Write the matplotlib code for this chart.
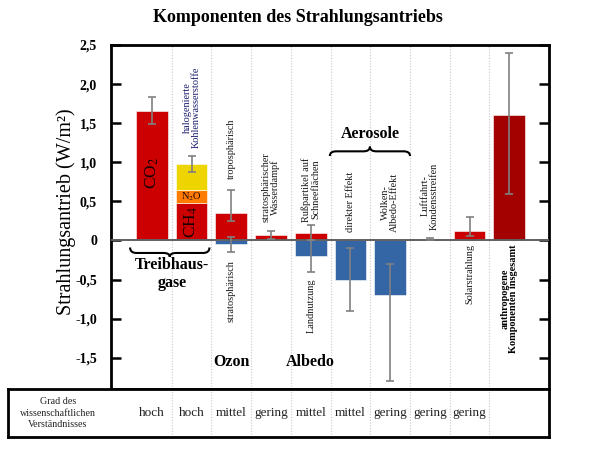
import matplotlib
matplotlib.use("Agg")
import matplotlib.pyplot as plt
from matplotlib.path import Path
from matplotlib.patches import PathPatch
import numpy as np

plt.rcParams['font.family'] = ['Liberation Serif', 'DejaVu Serif']
plt.rcParams['mathtext.fontset'] = 'stix'

# ---------------- data ----------------
understanding = ["hoch", "hoch", "mittel", "gering", "mittel", "mittel",
                 "gering", "gering", "gering", ""]
n_cols = len(understanding)

# component: column slot, value, colour key
comp_names = ["CO2", "CH4", "N2O", "halogenierte Kohlenwasserstoffe",
              "troposphärisch", "stratosphärisch",
              "stratosphärischer Wasserdampf", "Rußpartikel auf Schneeflächen",
              "Landnutzung", "direkter Effekt", "Wolken-Albedo-Effekt",
              "Luftfahrt-Kondensstreifen", "Solarstrahlung",
              "anthropogene Komponenten insgesamt"]
comp_slot = [0, 1, 1, 1, 2, 2, 3, 4, 4, 5, 6, 7, 8, 9]
comp_value = [1.66, 0.48, 0.16, 0.34, 0.35, -0.05, 0.07, 0.10, -0.20,
              -0.50, -0.70, 0.01, 0.12, 1.60]
comp_kind = ["red", "red", "orange", "yellow", "red", "blue", "red", "red",
             "blue", "blue", "blue", "red", "red", "darkred"]

# error bars: slot, central value, low, high
err_slot = [0, 1, 2, 2, 3, 4, 4, 5, 6, 7, 8, 9]
err_center = [1.66, 0.98, 0.35, -0.05, 0.07, 0.10, -0.20, -0.50, -0.70, 0.01, 0.12, 1.60]
err_low = [1.49, 0.88, 0.25, -0.15, 0.02, 0.00, -0.40, -0.90, -1.80, 0.003, 0.06, 0.60]
err_high = [1.83, 1.08, 0.65, 0.05, 0.12, 0.20, 0.00, -0.10, -0.30, 0.03, 0.30, 2.40]

yticks = [2.5, 2.0, 1.5, 1.0, 0.5, 0, -0.5, -1.0, -1.5]
ytick_labels = ["2,5", "2,0", "1,5", "1,0", "0,5", "0", "-0,5", "-1,0", "-1,5"]

colors = {"red": "#CC0000", "orange": "#FF7C00", "yellow": "#EED400",
          "blue": "#3465A4", "darkred": "#A30000"}

# ---------------- figure ----------------
W, H = 590, 449
fig = plt.figure(figsize=(W / 100, H / 100), dpi=100)
ax_l, ax_r, ax_t, ax_b = 111, 549, 45, 389
ax = fig.add_axes([ax_l / W, 1 - ax_b / H, (ax_r - ax_l) / W, (ax_b - ax_t) / H])
x0, x1 = -1.03, 10.0
ax.set_xlim(x0, x1)
ax.set_ylim(-1.9, 2.5)

# stacked bars
bw = 0.8
pos_base = {}
neg_base = {}
for s, v, k in zip(comp_slot, comp_value, comp_kind):
    if v >= 0:
        b = pos_base.get(s, 0.0)
        pos_base[s] = b + v
    else:
        b = neg_base.get(s, 0.0)
        neg_base[s] = b + v
    ax.bar(s, v, bottom=b, width=bw, color=colors[k], edgecolor='white',
           linewidth=0.4, zorder=2)

ax.errorbar(err_slot, err_center,
            yerr=[np.array(err_center) - np.array(err_low),
                  np.array(err_high) - np.array(err_center)],
            fmt='none', ecolor='#808080', elinewidth=1.2, capsize=2.6,
            capthick=1.2, zorder=4)

ax.axhline(0, color='#606060', lw=1.4, zorder=3)

for i in range(n_cols - 1):
    ax.axvline(i + 0.5, color='#c8c8c8', lw=0.8, ls=(0, (1, 1.5)), zorder=1)

ax.set_yticks(yticks)
ax.set_yticklabels(ytick_labels, fontweight='bold', fontsize=10)
ax.tick_params(axis='y', direction='in', length=7, width=1.8, right=True,
               left=True, pad=10)
ax.set_xticks([])
for sp in ax.spines.values():
    sp.set_linewidth(2)
ax.set_ylabel("Strahlungsantrieb (W/m²)", fontsize=14.5)
ax.yaxis.set_label_coords((76 - ax_l) / (ax_r - ax_l), (ax_b - 212) / (ax_b - ax_t))

# labels inside / around bars
tc = '#1a1a1a'
fs = 7.4
ax.text(0, 0.86, r"CO$_2$", rotation=90, ha='center', va='center', fontsize=12.5, color='#1a0000')
ax.text(1, 0.24, r"CH$_4$", rotation=90, ha='center', va='center', fontsize=12.5, color='#1a0000')
ax.text(1, 0.565, r"N$_2$O", ha='center', va='center', fontsize=7.5, color='#1a0000')
ax.text(1, 1.18, "halogenierte\nKohlenwasserstoffe", rotation=90, ha='center',
        va='bottom', fontsize=fs, color='#1c1c6e', linespacing=1.0)
ax.text(2, 0.78, "troposphärisch", rotation=90, ha='center', va='bottom', fontsize=fs, color=tc)
ax.text(2, -0.25, "stratosphärisch", rotation=90, ha='center', va='top', fontsize=fs, color=tc)
ax.text(3, 0.23, "stratosphärischer\nWasserdampf", rotation=90, ha='center', va='bottom',
        fontsize=fs, color=tc, linespacing=1.0)
ax.text(4, 0.24, "Rußpartikel auf\nSchneeflächen", rotation=90, ha='center', va='bottom',
        fontsize=fs, color=tc, linespacing=1.0)
ax.text(4, -0.48, "Landnutzung", rotation=90, ha='center', va='top', fontsize=fs, color=tc)
ax.text(5, 0.11, "direkter Effekt", rotation=90, ha='center', va='bottom', fontsize=fs, color=tc)
ax.text(6, 0.11, "Wolken-\nAlbedo-Effekt", rotation=90, ha='center', va='bottom',
        fontsize=fs, color=tc, linespacing=1.0)
ax.text(7, 0.14, "Luftfahrt-\nKondensstreifen", rotation=90, ha='center', va='bottom',
        fontsize=fs, color=tc, linespacing=1.0)
ax.text(8, -0.05, "Solarstrahlung", rotation=90, ha='center', va='top', fontsize=fs, color=tc)
ax.text(9, -0.05, "anthropogene\nKomponenten insgesamt", rotation=90, ha='center', va='top',
        fontsize=fs, fontweight='bold', color='black', linespacing=1.0)

# group labels
ax.text(0.5, -0.43, "Treibhaus-\ngase", ha='center', va='center', fontsize=11.5,
        fontweight='bold', linespacing=1.1)
ax.text(2, -1.55, "Ozon", ha='center', va='center', fontsize=11.5, fontweight='bold')
ax.text(4, -1.55, "Albedo", ha='center', va='center', fontsize=11.5, fontweight='bold')
ax.text(5.5, 1.36, "Aerosole", ha='center', va='center', fontsize=11.5, fontweight='bold')


def brace(ax, xa, xb, yend, yline, ytip, r=0.16):
    xm = (xa + xb) / 2
    verts = [(xa, yend), (xa, yline), (xa + r, yline),
             (xm - r, yline),
             (xm, yline), (xm, ytip),
             (xm, yline), (xm + r, yline),
             (xb - r, yline),
             (xb, yline), (xb, yend)]
    codes = [Path.MOVETO, Path.CURVE3, Path.CURVE3,
             Path.LINETO,
             Path.CURVE3, Path.CURVE3,
             Path.CURVE3, Path.CURVE3,
             Path.LINETO,
             Path.CURVE3, Path.CURVE3]
    ax.add_patch(PathPatch(Path(verts, codes), fill=False, lw=1.5,
                           edgecolor='black', clip_on=False, zorder=5))


brace(ax, -0.55, 1.45, -0.09, -0.16, -0.21)
brace(ax, 4.48, 6.5, 1.08, 1.14, 1.20)

# title
fig.text(298 / W, 1 - 18 / H, "Komponenten des Strahlungsantriebs", ha='center',
         va='center', fontsize=13, fontweight='bold')

# ---------------- table ----------------
tl, tr, tt, tb = 8, 549, 389, 437
axt = fig.add_axes([tl / W, 1 - tb / H, (tr - tl) / W, (tb - tt) / H])
scale = (ax_r - ax_l) / (x1 - x0)
axt.set_xlim(x0 - (ax_l - tl) / scale, x1)
axt.set_ylim(0, 1)
axt.set_xticks([])
axt.set_yticks([])
for sp in axt.spines.values():
    sp.set_linewidth(2)
for i in range(n_cols - 1):
    axt.axvline(i + 0.5, color='#c8c8c8', lw=0.8, ls=(0, (1, 1.5)))
for i, t in enumerate(understanding):
    axt.text(i, 0.5, t, ha='center', va='center', fontsize=9.5, color='#222222')
axt.text(x0 - (ax_l - 58) / scale, 0.5, "Grad des\nwissenschaftlichen\nVerständnisses",
         ha='center', va='center', fontsize=7.2, color='#222222', linespacing=1.3)

fig.savefig("out.png", dpi=100)
